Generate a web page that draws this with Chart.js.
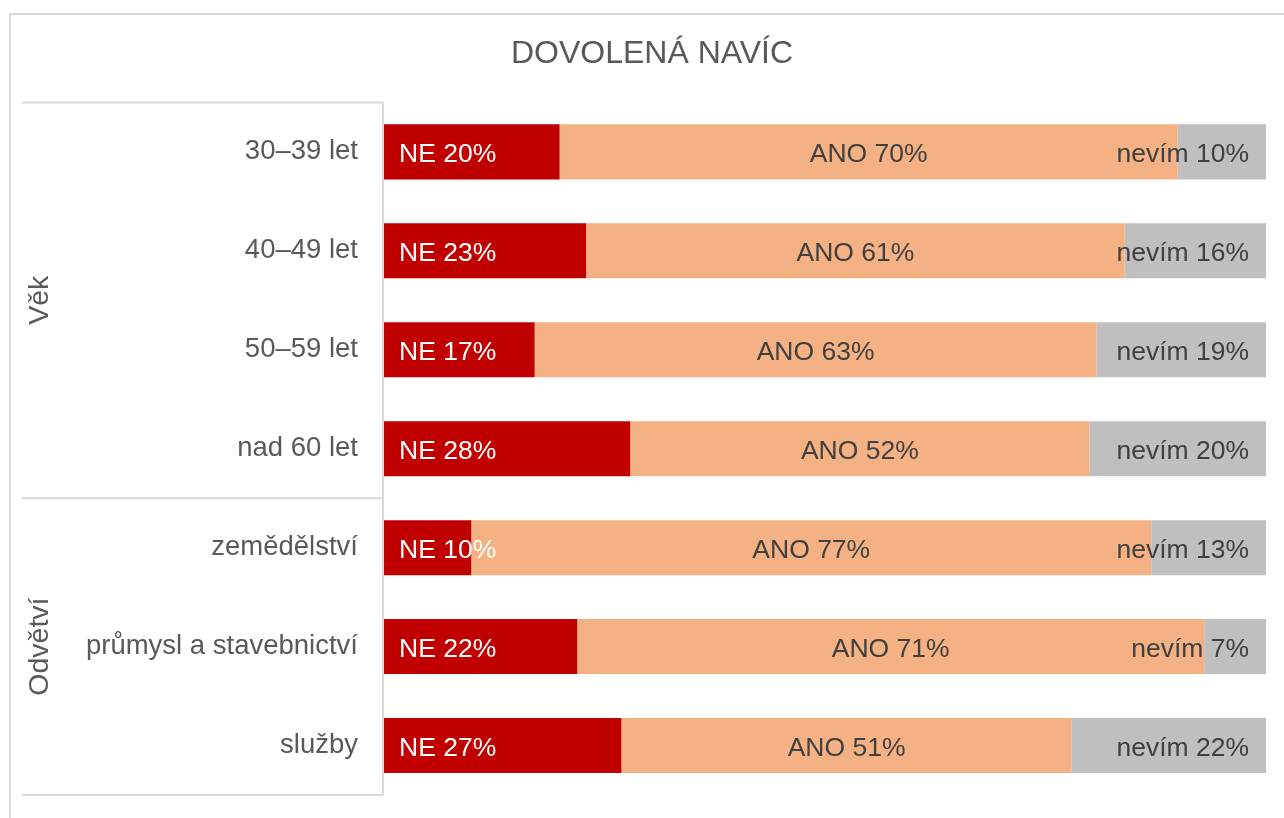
<!DOCTYPE html>
<html>
<head>
<meta charset="utf-8">
<script src="https://cdn.jsdelivr.net/npm/chart.js@4.4.0/dist/chart.umd.min.js"></script>
<style>
    html, body { margin: 0; padding: 0; background: #fff; }
    #frame { position: absolute; left: 9px; top: 13px; width: 1300px; height: 830px; border: 2px solid #d9d9d9; box-sizing: border-box; }
    #wrap { position: absolute; left: 20px; top: 0; width: 1264px; height: 818px; }
</style>
</head>
<body>
<div id="frame"></div>
<div id="wrap"><canvas id="vacationChart"></canvas></div>
<script>
var categories = ['30–39 let', '40–49 let', '50–59 let', 'nad 60 let', 'zemědělství', 'průmysl a stavebnictví', 'služby'];
var groups = ['Věk', 'Odvětví'];
var groupSizes = [4, 3];
var ne = [20, 23, 17, 28, 10, 22, 27];
var ano = [70, 61, 63, 52, 77, 71, 51];
var nevim = [10, 16, 19, 20, 13, 7, 22];
var seriesNames = ['NE', 'ANO', 'nevím'];

var fontFamily = '"Liberation Sans", Arial, sans-serif';
var textColor = '#595959';
var lineColor = '#d9d9d9';

// 100% stacked: each row scaled to its own total
function share(values) {
    return values.map((v, i) => v / (ne[i] + ano[i] + nevim[i]) * 100);
}

// labels inside the bars: NE left, ANO centre, nevim right
var barLabels = {
    id: 'barLabels',
    afterDatasetsDraw(chart) {
        var ctx = chart.ctx;
        var raw = [ne, ano, nevim];
        ctx.save();
        ctx.font = '26.5px ' + fontFamily;
        ctx.textBaseline = 'middle';
        chart.data.datasets.forEach((ds, di) => {
            var meta = chart.getDatasetMeta(di);
            meta.data.forEach((bar, i) => {
                var p = bar.getProps(['x', 'y', 'base'], true);
                var txt = seriesNames[di] + ' ' + raw[di][i] + '%';
                if (di == 0) {
                    ctx.fillStyle = '#ffffff';
                    ctx.textAlign = 'left';
                    ctx.fillText(txt, p.base + 16, p.y + 3);
                } else if (di == 1) {
                    ctx.fillStyle = '#404040';
                    ctx.textAlign = 'center';
                    ctx.fillText(txt, (p.base + p.x) / 2, p.y + 3);
                } else {
                    ctx.fillStyle = '#404040';
                    ctx.textAlign = 'right';
                    ctx.fillText(txt, p.x - 17, p.y + 3);
                }
            });
        });
        ctx.restore();
    }
};

// group lines and rotated group names on the left
var groupAxis = {
    id: 'groupAxis',
    afterDraw(chart) {
        var ctx = chart.ctx;
        var yScale = chart.scales.y;
        var area = chart.chartArea;
        var left = 2;
        var right = yScale.right;
        var step = (area.bottom - area.top) / categories.length;
        ctx.save();
        ctx.strokeStyle = lineColor;
        ctx.lineWidth = 2;
        var edges = [area.top];
        var n = 0;
        groupSizes.forEach(s => {
            n += s;
            edges.push(area.top + n * step);
        });
        edges.forEach(y => {
            ctx.beginPath();
            ctx.moveTo(left, y);
            ctx.lineTo(right, y);
            ctx.stroke();
        });
        ctx.beginPath();
        ctx.moveTo(right, area.top);
        ctx.lineTo(right, area.bottom);
        ctx.stroke();

        ctx.fillStyle = textColor;
        ctx.font = '28.5px ' + fontFamily;
        ctx.textAlign = 'center';
        ctx.textBaseline = 'middle';
        groups.forEach((g, i) => {
            var mid = (edges[i] + edges[i + 1]) / 2;
            ctx.save();
            ctx.translate(20, mid);
            ctx.rotate(-Math.PI / 2);
            ctx.fillText(g, 0, 0);
            ctx.restore();
        });
        ctx.restore();
    }
};

var ctx = document.getElementById('vacationChart').getContext('2d');
var vacationChart = new Chart(ctx, {
    type: 'bar',
    data: {
        labels: categories,
        datasets: [{
            label: seriesNames[0],
            data: share(ne),
            backgroundColor: '#C00000',
            categoryPercentage: 1,
            barPercentage: 0.556
        },
        {
            label: seriesNames[1],
            data: share(ano),
            backgroundColor: '#F4B183',
            categoryPercentage: 1,
            barPercentage: 0.556
        },
        {
            label: seriesNames[2],
            data: share(nevim),
            backgroundColor: '#BFBFBF',
            categoryPercentage: 1,
            barPercentage: 0.556
        }]
    },
    options: {
        indexAxis: 'y',
        responsive: true,
        maintainAspectRatio: false,
        animation: false,
        layout: {
            padding: { left: 18, right: 18, top: 0, bottom: 23 }
        },
        plugins: {
            legend: { display: false },
            tooltip: { enabled: false },
            title: {
                display: true,
                text: 'DOVOLENÁ NAVÍC',
                color: textColor,
                font: { family: fontFamily, size: 32, weight: 'normal', lineHeight: 1.2 },
                padding: { top: 35, bottom: 29 }
            }
        },
        scales: {
            x: {
                stacked: true,
                display: false,
                min: 0,
                max: 100
            },
            y: {
                stacked: true,
                grid: { display: false, drawTicks: false },
                border: { display: false },
                ticks: {
                    color: textColor,
                    padding: 25,
                    font: { family: fontFamily, size: 27.5 }
                },
                afterFit: function (scale) {
                    scale.width = 345;
                    scale.paddingTop = 0;
                    scale.paddingBottom = 0;
                }
            }
        }
    },
    plugins: [barLabels, groupAxis]
});
</script>
</body>
</html>
